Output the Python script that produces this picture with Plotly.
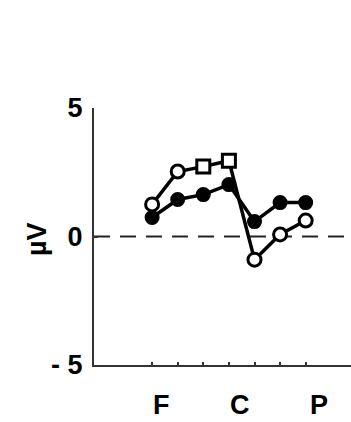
import plotly.graph_objects as go

# Electrode positions along the anterior-posterior line
positions = [0, 1, 2, 3, 4, 5, 6]
region_labels = ["F", "C", "P"]
region_label_pos = [0.35, 3.44, 6.52]

# Mean amplitudes (µV)
filled_series = [0.74, 1.44, 1.63, 2.02, 0.58, 1.32, 1.32]
open_series = [1.25, 2.53, 2.72, 2.95, -0.9, 0.08, 0.62]
open_symbols = ["circle", "circle", "square", "square", "circle", "circle", "circle"]

y_ticks = [-5, 0, 5]
y_tick_text = ["- 5", "0", "5"]

font_family = "Liberation Sans, Arial, sans-serif"

fig = go.Figure()

fig.add_shape(type="line", xref="paper", yref="y", x0=0, x1=1, y0=0, y1=0,
              line=dict(color="#222", width=2, dash="16px,10px"), layer="below")

fig.add_trace(go.Scatter(
    x=positions, y=filled_series, mode="lines+markers",
    line=dict(color="black", width=3.5),
    marker=dict(symbol="circle", size=13, color="black",
                line=dict(color="black", width=2)),
    showlegend=False,
))
fig.add_trace(go.Scatter(
    x=positions, y=open_series, mode="lines+markers",
    line=dict(color="black", width=3.5),
    marker=dict(symbol=open_symbols, size=13, color="white",
                line=dict(color="black", width=3)),
    showlegend=False,
))

for lab, xp in zip(region_labels, region_label_pos):
    fig.add_annotation(x=xp, xref="x", y=-0.2215, yref="paper", text=lab,
                       showarrow=False, yanchor="bottom", xanchor="center",
                       font=dict(family=font_family, size=27, color="black"))

fig.add_annotation(x=-0.222, xref="paper", y=0.49, yref="paper", text="<b>µV</b>",
                   textangle=-90, showarrow=False, xanchor="center", yanchor="middle",
                   font=dict(family=font_family, size=27, color="black"))

fig.update_layout(
    width=351, height=422,
    margin=dict(l=94, r=0, t=108, b=57),
    paper_bgcolor="white", plot_bgcolor="white",
    font=dict(family=font_family, color="black"),
    xaxis=dict(range=[-2.27, 7.77], tickvals=positions, ticktext=[""] * 7,
               ticks="inside", ticklen=3, tickwidth=1.5, tickcolor="#333",
               showline=True, linecolor="#333", linewidth=2,
               showgrid=False, zeroline=False, fixedrange=True),
    yaxis=dict(range=[-5, 5], tickvals=y_ticks, ticktext=y_tick_text,
               ticks="inside", ticklen=4, tickwidth=1.5, tickcolor="#333",
               showline=True, linecolor="#333", linewidth=2,
               showgrid=False, zeroline=False, fixedrange=True,
               tickfont=dict(family=font_family, size=27, color="black", weight="bold"),
               ticklabelstandoff=4),
)
fig.update_annotations(font_weight="bold")

fig.write_html("out.html")
